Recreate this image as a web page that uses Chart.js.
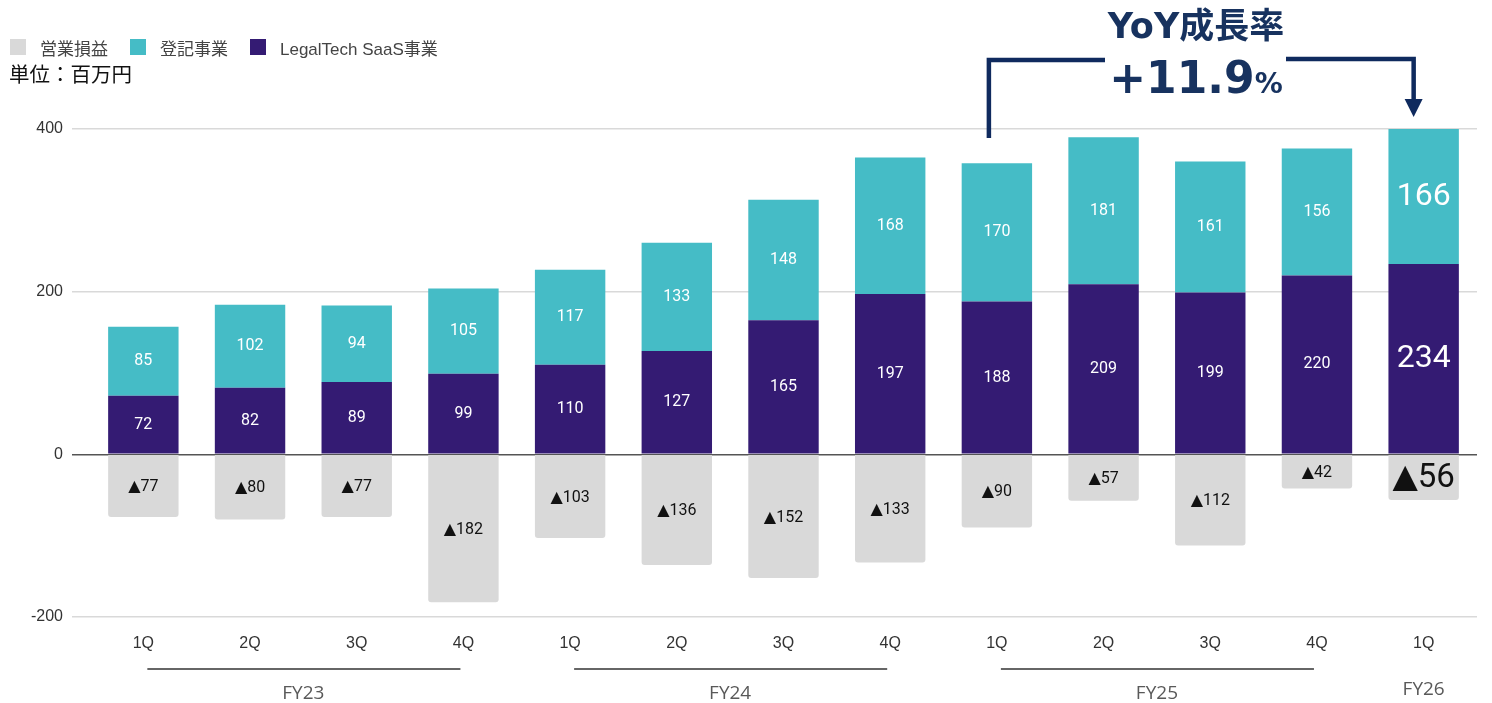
<!DOCTYPE html>
<html><head><meta charset="utf-8">
<script src="https://cdn.jsdelivr.net/npm/chart.js@4/dist/chart.umd.min.js"></script>
<style>
html,body{margin:0;padding:0;background:#fff;}
#wrap{position:relative;width:1492px;height:703px;overflow:hidden;}
#c{position:absolute;left:0;top:0;}
.legend{position:absolute;left:10px;top:37px;height:20px;font-family:"Liberation Sans","Noto Sans CJK JP",sans-serif;font-size:17px;color:#444;display:flex;align-items:center;white-space:nowrap;}
.legend .item{display:inline-flex;align-items:center;margin-right:22px;}
.legend .box{display:inline-block;width:16px;height:16px;margin-right:14px;}
.unit{position:absolute;left:9px;top:59px;font-family:"Noto Sans CJK JP",sans-serif;font-size:20.5px;line-height:28px;color:#111;}
.yoy1{position:absolute;left:1090px;top:3px;width:212px;text-align:center;font-family:"DejaVu Sans","Noto Sans CJK JP",sans-serif;font-weight:bold;font-size:35px;line-height:46px;color:#17325f;white-space:nowrap;}
.yoy2{position:absolute;left:1090px;top:53px;width:212px;text-align:center;font-family:"DejaVu Sans",sans-serif;font-weight:bold;font-size:44px;line-height:50px;color:#17325f;white-space:nowrap;}
.yoy2 small{font-size:28px;}
</style>
</head><body>
<div id="wrap">
<canvas id="c" width="1492" height="703"></canvas>
<div class="legend" id="legend"></div>
<div class="unit">単位：百万円</div>
<div class="yoy1">YoY成長率</div>
<div class="yoy2">+11.9<small>%</small></div>
</div>
<script>
// ---- data ----
const quarterLabels = ['1Q','2Q','3Q','4Q','1Q','2Q','3Q','4Q','1Q','2Q','3Q','4Q','1Q'];
const fiscalYears = ['FY23','FY24','FY25','FY26'];
const fiscalYearStart = [0,4,8,12];
const fiscalYearEnd = [3,7,11,12];
const saasValues = [72,82,89,99,110,127,165,197,188,209,199,220,234];
const toukiValues = [85,102,94,105,117,133,148,168,170,181,161,156,166];
const operatingValues = [-77,-80,-77,-182,-103,-136,-152,-133,-90,-57,-112,-42,-56];
const seriesNames = ['営業損益','登記事業','LegalTech SaaS事業'];
const yTicks = [-200,0,200,400];

const colors = {gray:'#d9d9d9', teal:'#45bcc6', purple:'#341b73', navy:'#0f2a5e'};

// legend
const legendItems = [[seriesNames[0],colors.gray],[seriesNames[1],colors.teal],[seriesNames[2],colors.purple]];
document.getElementById('legend').innerHTML = legendItems.map(([n,c])=>
  `<span class="item"><span class="box" style="background:${c}"></span>${n}</span>`).join('');

const valueLabels = {
  id:'valueLabels',
  afterDatasetsDraw(chart){
    const ctx = chart.ctx;
    chart.data.datasets.forEach((ds,di)=>{
      const meta = chart.getDatasetMeta(di);
      meta.data.forEach((bar,i)=>{
        const v = ds.data[i];
        const last = i === quarterLabels.length-1;
        const p = bar.getProps(['x','y','base'],true);
        const cy = (p.y+p.base)/2;
        ctx.save();
        ctx.textAlign='center'; ctx.textBaseline='middle';
        if(v<0){
          ctx.fillStyle='#111';
          ctx.font = (last?'33px':'16px')+' Roboto, "DejaVu Sans", sans-serif';
          ctx.fillText('▲'+Math.abs(v), p.x, cy+1);
        } else {
          ctx.fillStyle='#fff';
          ctx.font = (last?'32px':'16px')+' Roboto, sans-serif';
          ctx.fillText(String(v), p.x, cy);
        }
        ctx.restore();
      });
    });
  }
};

const fyPlugin = {
  id:'fyPlugin',
  afterDraw(chart){
    const ctx = chart.ctx, xs = chart.scales.x;
    ctx.save();
    fiscalYears.forEach((fy,k)=>{
      const a = xs.getPixelForValue(fiscalYearStart[k]);
      const b = xs.getPixelForValue(fiscalYearEnd[k]);
      const mid = (a+b)/2;
      ctx.fillStyle='#595959'; ctx.font='19px "Open Sans", sans-serif';
      ctx.textAlign='center'; ctx.textBaseline='middle';
      if(fiscalYearEnd[k] > fiscalYearStart[k]){
        ctx.strokeStyle='#666'; ctx.lineWidth=2;
        ctx.beginPath(); ctx.moveTo(a+4,669); ctx.lineTo(b-3,669); ctx.stroke();
        ctx.fillText(fy, mid, 694);
      } else {
        ctx.fillText(fy, mid, 690);
      }
    });
    // YoY bracket
    const xl = xs.getPixelForValue(8)-8, xr = xs.getPixelForValue(12)-10;
    ctx.strokeStyle=colors.navy; ctx.lineWidth=4.5; ctx.lineJoin='miter'; ctx.lineCap='butt';
    ctx.beginPath(); ctx.moveTo(xl,138); ctx.lineTo(xl,60); ctx.lineTo(1105,60); ctx.stroke();
    ctx.beginPath(); ctx.moveTo(1286,59); ctx.lineTo(xr,59); ctx.lineTo(xr,102); ctx.stroke();
    ctx.fillStyle=colors.navy;
    ctx.beginPath(); ctx.moveTo(xr-9,99); ctx.lineTo(xr+9,99); ctx.lineTo(xr,117); ctx.closePath(); ctx.fill();
    ctx.restore();
  }
};

new Chart(document.getElementById('c'),{
  type:'bar',
  data:{
    labels: quarterLabels,
    datasets:[
      {label:seriesNames[0], data:operatingValues, backgroundColor:colors.gray, borderRadius:3, borderSkipped:'start', stack:'s'},
      {label:seriesNames[2], data:saasValues, backgroundColor:colors.purple, stack:'s'},
      {label:seriesNames[1], data:toukiValues, backgroundColor:colors.teal, stack:'s'}
    ]
  },
  options:{
    responsive:false, animation:false,
    layout:{padding:{left:0,right:15,top:129,bottom:0}},
    plugins:{legend:{display:false}, tooltip:{enabled:false}},
    datasets:{bar:{categoryPercentage:1, barPercentage:0.66}},
    scales:{
      x:{
        stacked:true,
        grid:{display:false},
        border:{display:false},
        ticks:{color:'#333', font:{family:'"Liberation Sans", Arial, sans-serif', size:16}, padding:9, maxRotation:0},
        afterFit(s){ s.height = 86; }
      },
      y:{
        stacked:true, min:-200, max:400,
        afterBuildTicks(s){ s.ticks = yTicks.map(v=>({value:v})); },
        grid:{color:c=>c.tick && c.tick.value===0 ? '#555' : '#d9d9d9', lineWidth:1.5, tickLength:18},
        border:{display:false},
        ticks:{color:'#333', font:{family:'"Liberation Sans", Arial, sans-serif', size:16}, padding:9},
        afterFit(s){ s.width = 90; }
      }
    }
  },
  plugins:[valueLabels, fyPlugin]
});
</script>
</body></html>
